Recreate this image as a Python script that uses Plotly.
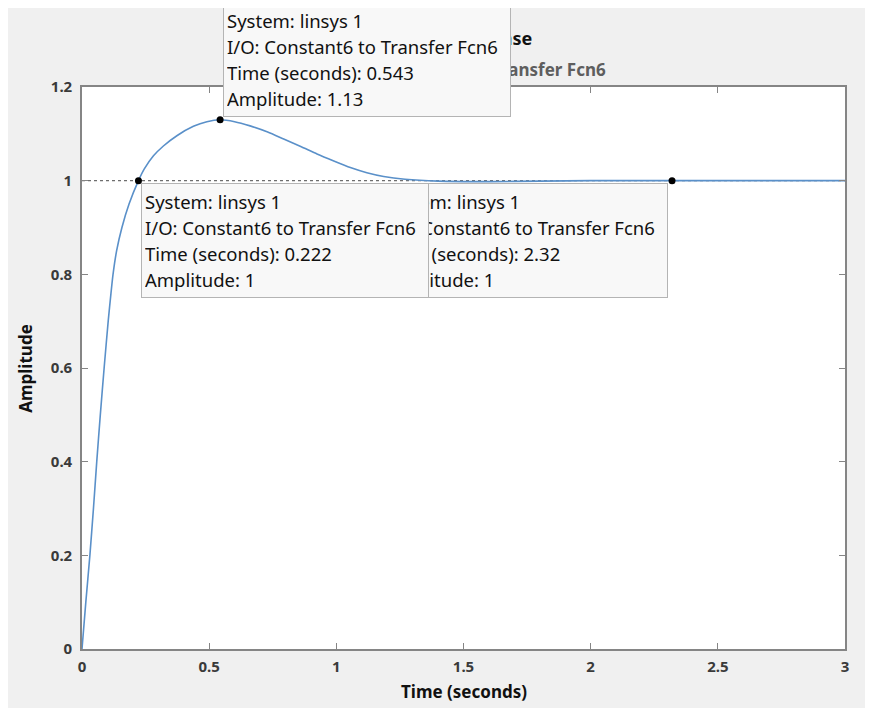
import plotly.graph_objects as go

# ---- data ----
time_s = [0, 0.015, 0.031, 0.045, 0.058, 0.072, 0.087, 0.103, 0.114, 0.122, 0.136, 0.157,
          0.185, 0.222, 0.245, 0.281, 0.320, 0.373, 0.438, 0.491, 0.543, 0.6, 0.661, 0.73,
          0.793, 0.86, 0.924, 0.99, 1.055, 1.12, 1.186, 1.27, 1.4, 1.6, 1.8, 2.0, 2.32, 2.6, 3.0]
amplitude = [0, 0.1, 0.2, 0.3, 0.4, 0.5, 0.6, 0.7, 0.76, 0.8, 0.85, 0.9,
             0.95, 1.0, 1.025, 1.053, 1.074, 1.096, 1.116, 1.126, 1.13, 1.126, 1.117, 1.104,
             1.089, 1.073, 1.057, 1.042, 1.028, 1.017, 1.009, 1.003, 0.999, 0.998, 0.999, 1.0, 1.0, 1.0, 1.0]
steady_x = [0, 3]
steady_y = [1, 1]
tip_t = [2.32, 0.222, 0.543]
tip_y = [1, 1, 1.13]
tip_t_text = ["2.32", "0.222", "0.543"]
tip_y_text = ["1", "1", "1.13"]
x_ticks = [0, 0.5, 1, 1.5, 2, 2.5, 3]
x_tick_text = ["0", "0.5", "1", "1.5", "2", "2.5", "3"]
y_ticks = [0, 0.2, 0.4, 0.6, 0.8, 1, 1.2]
y_tick_text = ["0", "0.2", "0.4", "0.6", "0.8", "1", "1.2"]
title_text = "Step Response"
subtitle_text = "From: Constant6  To: Transfer Fcn6"
x_title = "Time (seconds)"
y_title = "Amplitude"
system_name = "linsys 1"
io_text = "Constant6 to Transfer Fcn6"

FONT = "Noto Sans"
AXC = "#858585"

fig = go.Figure()
fig.add_trace(go.Scatter(x=steady_x, y=steady_y, mode="lines",
                         line=dict(color="#6e6e6e", width=1.3, dash="dot"),
                         hoverinfo="skip", showlegend=False))
fig.add_trace(go.Scatter(x=time_s, y=amplitude, mode="lines",
                         line=dict(color="#5a90c9", width=1.6, shape="spline", smoothing=0.6),
                         showlegend=False))
fig.add_trace(go.Scatter(x=tip_t, y=tip_y, mode="markers",
                         marker=dict(color="black", size=7), showlegend=False))

def tip_text(t, a):
    lines = [f"System: {system_name}", f"I/O: {io_text}",
             f"Time (seconds): {t}", f"Amplitude: {a}"]
    return "<br>".join(f"<span style='font-size:18.5px'>{l}</span>" for l in lines)

annotations = [
    dict(text=f"<b>{title_text}</b>", xref="paper", yref="paper", x=0.592, y=1.087,
         showarrow=False, font=dict(family=FONT, size=18, color="#111111"),
         xanchor="right", yanchor="middle"),
    dict(text=f"<b>{subtitle_text}</b>", xref="paper", yref="paper", x=0.689, y=1.031,
         showarrow=False, font=dict(family=FONT, size=17, color="#5e5e5e"),
         xanchor="right", yanchor="middle"),
    dict(text=f"<b>{x_title}</b>", xref="paper", yref="paper", x=0.5, y=-0.075,
         showarrow=False, font=dict(family=FONT, size=17, color="#111111"),
         xanchor="center", yanchor="middle"),
    dict(text=f"<b>{y_title}</b>", xref="paper", yref="paper", x=-0.075, y=0.5,
         showarrow=False, textangle=-90, font=dict(family=FONT, size=17, color="#111111"),
         xanchor="center", yanchor="middle"),
]

anchors = [("right", "top", -4, -2), ("left", "top", 3, -2), ("left", "bottom", 3, 3)]
for t, a, tt, at, (xa, ya, xs, ys) in zip(tip_t, tip_y, tip_t_text, tip_y_text, anchors):
    annotations.append(dict(
        text=tip_text(tt, at), x=t, y=a, xref="x", yref="y", showarrow=False,
        xanchor=xa, yanchor=ya, xshift=xs, yshift=ys, align="left", valign="middle",
        width=280, height=107, borderpad=3, borderwidth=1,
        bgcolor="#f8f8f8", bordercolor="#b4b4b4",
        font=dict(family=FONT, size=20, color="#111111")))

axis_common = dict(showline=True, linecolor=AXC, linewidth=1.6, mirror="ticks",
                   ticks="inside", ticklen=6, tickwidth=1.2, tickcolor=AXC,
                   showgrid=False, zeroline=False,
                   tickfont=dict(family=FONT, size=15, color="#3a3a3a", weight="bold"))

fig.update_layout(
    width=857, height=700,
    margin=dict(l=74, r=20, t=79, b=59),
    paper_bgcolor="#f0f0f0", plot_bgcolor="white",
    xaxis=dict(range=[0, 3], tickvals=x_ticks, ticktext=x_tick_text,
               ticklabelstandoff=3, **axis_common),
    yaxis=dict(range=[0, 1.2], tickvals=y_ticks, ticktext=y_tick_text,
               ticklabelstandoff=5, **axis_common),
    annotations=annotations,
    showlegend=False,
)

fig.write_html("out.html")
